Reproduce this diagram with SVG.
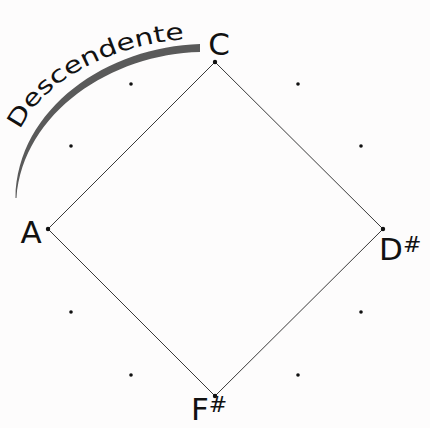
<svg xmlns="http://www.w3.org/2000/svg" width="430" height="428" viewBox="0 0 430 428">
<style>
.lbl{font-family:"DejaVu Sans","Liberation Sans",sans-serif;fill:#111;font-size:31px}
.dot{fill:#111}
.edge{stroke:#3a3a3a;stroke-width:1;fill:none}
</style>
<rect width="430" height="428" fill="#fdfcfc"/>
<g id="connectors">
<path class="edge" d="M215,62 L383,229 L215,396 L48,229 Z"/>
</g>
<g id="arc">
<path d="M200,44 C108,46.5 17,108 15.5,198 L16.5,198 C23,112 112,54 200,52 Z" fill="#5a5a5a"/>
<path id="tp" d="M20,130 C42,82 110,42 200,38" fill="none"/>
<text font-family="DejaVu Sans,sans-serif" font-size="23" fill="#111"><textPath href="#tp" textLength="196" lengthAdjust="spacingAndGlyphs">Descendente</textPath></text>
</g>
<g id="minor-dots">
<circle class="dot" cx="131" cy="84" r="1.8"/>
<circle class="dot" cx="71" cy="146" r="1.8"/>
<circle class="dot" cx="298" cy="84" r="1.8"/>
<circle class="dot" cx="361" cy="146" r="1.8"/>
<circle class="dot" cx="71" cy="312" r="1.8"/>
<circle class="dot" cx="361" cy="312" r="1.8"/>
<circle class="dot" cx="131" cy="375" r="1.8"/>
<circle class="dot" cx="298" cy="375" r="1.8"/>
</g>
<g id="node-C">
<circle class="dot" cx="215" cy="62" r="2.2"/>
<text class="lbl" x="219" y="55" text-anchor="middle">C</text>
</g>
<g id="node-A">
<circle class="dot" cx="48" cy="229" r="2.2"/>
<text class="lbl" x="31" y="243" text-anchor="middle">A</text>
</g>
<g id="node-Dsharp">
<circle class="dot" cx="383" cy="229" r="2.2"/>
<text class="lbl" x="379" y="260">D<tspan font-size="22" dy="-8">#</tspan></text>
</g>
<g id="node-Fsharp">
<circle class="dot" cx="215" cy="396" r="2.2"/>
<text class="lbl" x="191" y="420">F<tspan font-size="22" dy="-8">#</tspan></text>
</g>
</svg>
